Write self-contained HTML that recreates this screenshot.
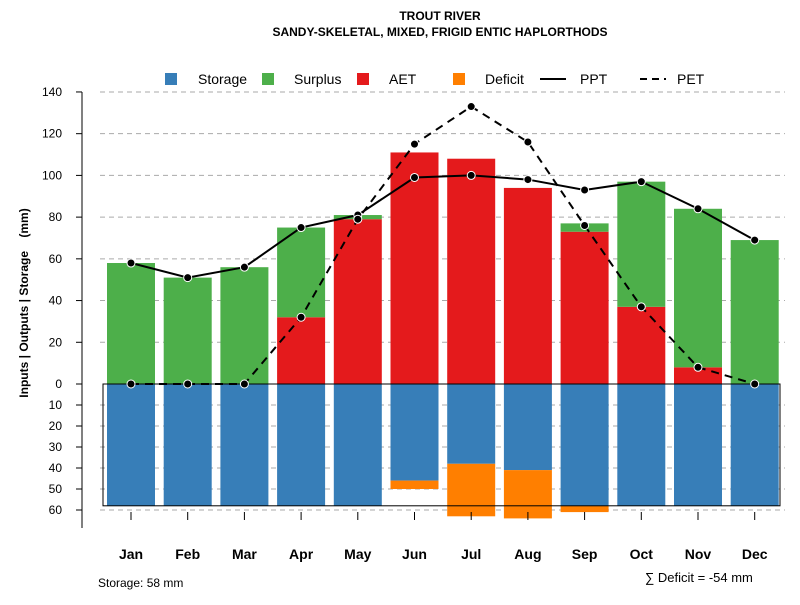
<!DOCTYPE html>
<html><head><meta charset="utf-8"><style>body{margin:0;background:#fff}svg text{font-family:"Liberation Sans",sans-serif}</style></head>
<body>
<svg id="c" width="800" height="600">
<text x="440" y="20" text-anchor="middle" font-size="12" font-weight="bold">TROUT RIVER</text>
<text x="440" y="36" text-anchor="middle" font-size="12" font-weight="bold">SANDY-SKELETAL, MIXED, FRIGID ENTIC HAPLORTHODS</text>
<g id="grid"></g><g id="bars"></g><g id="lines"></g><g id="axes"></g>
<g font-size="14">
<rect x="165" y="73" width="12" height="12" fill="#377eb8"/><text x="198" y="84">Storage</text>
<rect x="262" y="73" width="12" height="12" fill="#4daf4a"/><text x="294" y="84">Surplus</text>
<rect x="357" y="73" width="12" height="12" fill="#e41a1c"/><text x="389" y="84">AET</text>
<rect x="453" y="73" width="12" height="12" fill="#ff7f00"/><text x="485" y="84">Deficit</text>
<line x1="540" y1="79" x2="566" y2="79" stroke="#000" stroke-width="2"/><text x="580" y="84">PPT</text>
<line x1="640" y1="79" x2="666" y2="79" stroke="#000" stroke-width="2" stroke-dasharray="7,5"/><text x="677" y="84">PET</text>
</g>
<text x="98" y="587" font-size="12">Storage: 58 mm</text>
<text x="645" y="582" font-size="13">∑ Deficit = -54 mm</text>
<text transform="translate(28,303) rotate(-90)" text-anchor="middle" font-size="12" font-weight="bold" style="white-space:pre">Inputs | Outputs | Storage    (mm)</text>
</svg>
<script>
const months=["Jan","Feb","Mar","Apr","May","Jun","Jul","Aug","Sep","Oct","Nov","Dec"];
const storage=[58,58,58,58,58,46,38,41,58,58,58,58];
const deficit=[0,0,0,0,0,4,25,23,3,0,0,0];
const aet=[0,0,0,32,79,111,108,94,73,37,8,0];
const surplus=[58,51,56,43,2,0,0,0,4,60,76,69];
const ppt=[58,51,56,75,81,99,100,98,93,97,84,69];
const pet=[0,0,0,32,79,115,133,116,76,37,8,0];
const upTicks=[0,20,40,60,80,100,120,140];
const downTicks=[10,20,30,40,50,60];
const NS="http://www.w3.org/2000/svg";
const y0=384,kU=2.086,kD=2.1;
const yU=v=>y0-v*kU, yD=v=>y0+v*kD;
const xC=i=>131+i*56.7, bw=48;
function mk(p,t,a){const e=document.createElementNS(NS,t);for(const k in a)e.setAttribute(k,a[k]);document.getElementById(p).appendChild(e);return e;}
upTicks.forEach(v=>{if(v>0){const g=mk('grid','line',{x1:100,x2:785,y1:yU(v),y2:yU(v),stroke:'#aaa','stroke-dasharray':'5,4'});

}
const t=mk('axes','text',{x:62,y:yU(v)+4,'text-anchor':'end','font-size':12});t.textContent=v;


mk('axes','line',{x1:76,x2:82,y1:yU(v),y2:yU(v),stroke:'#000'});});
downTicks.forEach(v=>{const g=mk('grid','line',{x1:100,x2:785,y1:yD(v),y2:yD(v),stroke:'#aaa','stroke-dasharray':'5,4'});


const t=mk('axes','text',{x:62,y:yD(v)+4,'text-anchor':'end','font-size':12});t.textContent=v;


mk('axes','line',{x1:76,x2:82,y1:yD(v),y2:yD(v),stroke:'#000'});});
mk('axes','line',{x1:82,x2:82,y1:yU(140),y2:528,stroke:'#000'});
months.forEach((m,i)=>{const x=xC(i)-bw/2;
let r=mk('bars','rect',{x,y:y0,width:bw,height:storage[i]*kD,fill:'#377eb8'});


if(deficit[i]>0){r=mk('bars','rect',{x,y:yD(storage[i]),width:bw,height:deficit[i]*kD,fill:'#ff7f00'});

}
if(aet[i]>0){r=mk('bars','rect',{x,y:yU(aet[i]),width:bw,height:aet[i]*kU,fill:'#e41a1c'});

}
if(surplus[i]>0){r=mk('bars','rect',{x,y:yU(aet[i]+surplus[i]),width:bw,height:surplus[i]*kU,fill:'#4daf4a'});

}
mk('axes','line',{x1:xC(i),x2:xC(i),y1:512,y2:520,stroke:'#000'});
const t=mk('axes','text',{x:xC(i),y:559,'text-anchor':'middle','font-size':14,'font-weight':'bold'});t.textContent=m;

});
mk('bars','rect',{x:103,y:y0,width:677,height:58*kD,fill:'none',stroke:'#000'});
function line(d,dash,name){const p=mk('lines','polyline',{points:d.map((v,i)=>xC(i)+','+yU(v)).join(' '),fill:'none',stroke:'#000','stroke-width':2,'stroke-dasharray':dash});


d.forEach((v,i)=>{const c=mk('lines','circle',{cx:xC(i),cy:yU(v),r:4,fill:'#000',stroke:'#fff','stroke-width':1});

});}
line(ppt,'none','ppt-line');line(pet,'8,6','pet-line');
</script>
</body></html>
